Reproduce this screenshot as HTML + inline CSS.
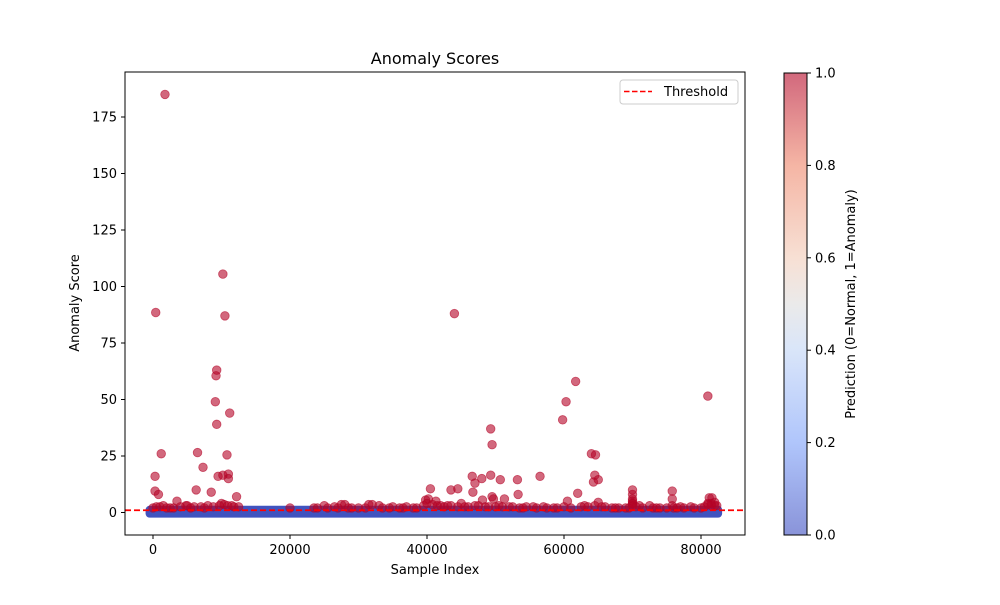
<!DOCTYPE html>
<html><head><meta charset="utf-8"><style>
body{margin:0;background:#fff;font-family:"Liberation Sans","DejaVu Sans",sans-serif}
svg text{font-family:"DejaVu Sans","Liberation Sans",sans-serif}
</style></head><body>
<svg id="chart" width="1000" height="600" xmlns="http://www.w3.org/2000/svg">
<defs>
<linearGradient id="cw" x1="0" y1="1" x2="0" y2="0">
<stop offset="0" stop-color="#3b4cc0"/><stop offset="0.2" stop-color="#7b9ff9"/><stop offset="0.4" stop-color="#c0d4f5"/><stop offset="0.5" stop-color="#dddcdc"/><stop offset="0.6" stop-color="#f2cbb7"/><stop offset="0.8" stop-color="#ee8468"/><stop offset="1" stop-color="#b40426"/>
</linearGradient>
<clipPath id="pc"><rect x="125" y="72" width="620" height="463"/></clipPath>
</defs>
<text x="435" y="64" font-size="16" text-anchor="middle">Anomaly Scores</text>
<g id="plot" clip-path="url(#pc)"></g>
<rect x="125" y="72" width="620" height="463" fill="none" stroke="#000" stroke-width="1"/>
<g id="axes" font-size="13"></g>
<text x="435" y="574" font-size="13" text-anchor="middle">Sample Index</text>
<text transform="translate(79,303) rotate(-90)" font-size="13" text-anchor="middle">Anomaly Score</text>
<g>
<rect x="620" y="80" width="118" height="24" rx="3" fill="#fff" stroke="#ccc"/>
<line x1="624" y1="91.5" x2="652" y2="91.5" stroke="#f00" stroke-width="1.5" stroke-dasharray="5.5,2.5"/>
<text x="664" y="96" font-size="13">Threshold</text>
</g>
<g>
<rect x="784" y="73" width="23" height="462" fill="url(#cw)" opacity="0.6"/>
<rect x="784" y="73" width="23" height="462" fill="none" stroke="#000" stroke-width="1"/>
</g>
<g id="cbticks" font-size="13"></g>
<text transform="translate(855,304) rotate(-90)" font-size="13" text-anchor="middle">Prediction (0=Normal, 1=Anomaly)</text>
</svg>
<script>
const xTicks=[0,20000,40000,60000,80000];
const yTicks=[0,25,50,75,100,125,150,175];
const cbTicks=[0,0.2,0.4,0.6,0.8,1.0];
const threshold=1;
const normalRange=[-500,82500];
const anomalyIdx=[1750,400,10200,10500,44000,9300,9200,9100,9300,11200,300,1200,6500,7300,10800,11000,11000,9500,10200,300,6300,800,8500,12200,3500,1500,4800,49300,49500,60300,59800,61700,81000,46600,47000,48000,49300,50700,53200,56500,40500,43500,44500,46700,48100,49500,49700,51300,53300,64000,64600,64500,64300,65000,62000,60500,65000,70000,70000,70000,75800,75800,81200,81600,40200,39800,41300,43000,25000,27500,28000,31500,32000,33000,35000,37000,20000,500,2500,5000,7000,8000,10000,11500,12500,24000,26500,29000,30000,36000,38000,42000,45000,47500,50500,52000,54500,55500,57000,58500,61000,63000,66000,67500,69000,71000,72500,74000,77000,78500,80000,82000,70000,75800,81500,
0,1000,2000,3000,4000,5500,6000,7500,8800,9700,10400,10900,11800,23500,25500,27000,28500,31000,33500,34500,36500,38500,39500,40000,40800,41500,42500,43500,44500,45500,46000,47000,48500,49000,50000,51000,52500,53500,54000,56000,57500,59000,60000,62500,63500,64500,65500,67000,68000,69500,70000,70000,70500,71500,73000,73500,75000,76000,76500,77500,79000,80500,81000,81500,82000,82300,70000,81000];
const anomalyVal=[185,88.5,105.5,87,88,63,60.5,49,39,44,16,26,26.5,20,25.5,17,15,16,16.5,9.5,10,8,9,7,5,3,3,37,30,49,41,58,51.5,16,13,15,16.5,14.5,14.5,16,10.5,10,10.5,9,5.5,7,6,6,8,26,25.5,16.5,13.5,14.5,8.5,5,4.5,10,8,6,9.5,6,6.5,6.5,6,5.5,5,3,3,3.5,3.5,3.5,3.5,3,2.5,2.5,2,2.5,2,3,2.5,3,4,3,2.5,2,2.5,2,2,2,2,3,4,3,3,2.5,2.5,2.5,2.5,2,2,3,2.5,2,2,3,3,2,2.5,2.5,2,3,4,3,4,
2,2.5,2,2,2.5,2,2.5,2,2.5,3,3.5,3,2.5,2,2,2,2,2,2,2,2,2,3,4,3.5,3,2.5,3,2.5,2.5,2.5,3,2.5,2.5,2.5,2.5,2.5,2,2,2,2,2,2.5,2.5,2.5,3,2.5,2,2,2,4,5,2.5,2,2,2,2,2,2,2,2,2.5,4,3,4.5,3,3,3.5];
const X=v=>153+v*(548/80000);
const Y=v=>512.5-v*(395.5/175);
const NS="http://www.w3.org/2000/svg";
function mk(t,a,p){const e=document.createElementNS(NS,t);for(const k in a)e.setAttribute(k,a[k]);p.appendChild(e);return e;}
const plot=document.getElementById('plot'),axes=document.getElementById('axes'),cb=document.getElementById('cbticks');
const band=mk('rect',{x:X(normalRange[0])-4,y:Y(1.2)-4,width:X(normalRange[1])-X(normalRange[0])+8,height:Y(-0.5)-Y(1.2)+8,rx:4,fill:'#4053bf'},plot);


anomalyIdx.forEach((v,i)=>{
 const c=mk('circle',{cx:X(v),cy:Y(anomalyVal[i]),r:4.3,fill:'#b40426','fill-opacity':0.6,stroke:'#b40426','stroke-opacity':0.6,'stroke-width':0.8},plot);
 
 
});
const th=mk('line',{x1:125,x2:745,y1:Y(threshold),y2:Y(threshold),stroke:'#f00','stroke-width':1.8,'stroke-dasharray':'6,3'},plot);


xTicks.forEach(v=>{
 mk('line',{x1:X(v),x2:X(v),y1:535,y2:539,stroke:'#000'},axes);
 const t=mk('text',{x:X(v),y:554,'text-anchor':'middle'},axes);t.textContent=v;
 
 
});
yTicks.forEach(v=>{
 mk('line',{x1:121,x2:125,y1:Y(v),y2:Y(v),stroke:'#000'},axes);
 const t=mk('text',{x:117,y:Y(v)+4.5,'text-anchor':'end'},axes);t.textContent=v;
 
 
});
cbTicks.forEach(v=>{
 const y=535-v*462;
 mk('line',{x1:807,x2:811,y1:y,y2:y,stroke:'#000'},cb);
 const t=mk('text',{x:815,y:y+4.5},cb);t.textContent=v.toFixed(1);
 
 
});
</script>
</body></html>
